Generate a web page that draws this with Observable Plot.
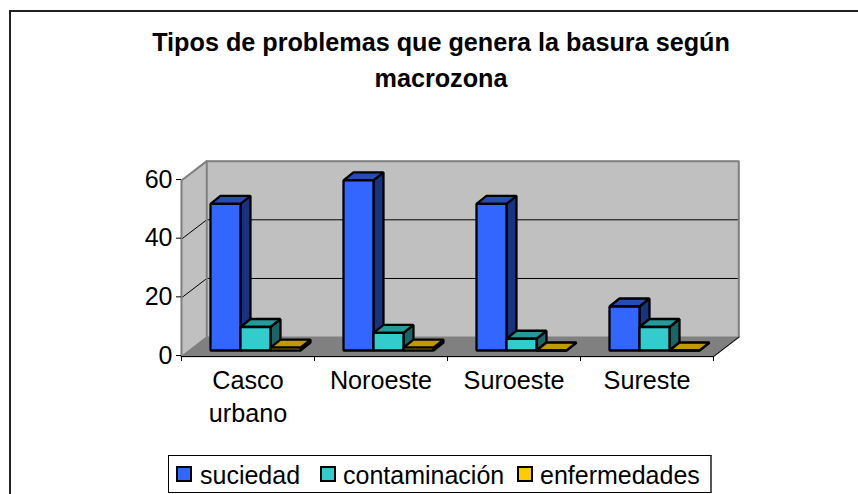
<!DOCTYPE html>
<html>
<head>
<meta charset="utf-8">
<script src="https://cdn.jsdelivr.net/npm/d3@7"></script>
<script src="https://cdn.jsdelivr.net/npm/@observablehq/plot@0.6"></script>
<style>
html,body{margin:0;padding:0;background:#fff;overflow:hidden}
#page{position:relative;width:858px;height:494px;overflow:hidden;font-family:"Liberation Sans",Arial,sans-serif;color:#000}
#frame{position:absolute;left:9px;top:10px;width:860px;height:500px;border:2px solid #222;box-sizing:border-box}
#title{position:absolute;left:141px;top:24px;width:600px;text-align:center;font-weight:bold;font-size:25.2px;line-height:36px;margin:0}
#chart{position:absolute;left:0;top:0}
#legend{position:absolute;left:168px;top:455px;width:544px;height:38px;border:1px solid #000;border-right:2px solid #555;box-sizing:border-box;background:#fff;font-size:25px}
#legend span.s{position:absolute;top:10px;width:12px;height:12px;border:2.5px solid #000;box-sizing:content-box}
#legend span.l{position:absolute;top:4px;white-space:nowrap;line-height:30px}
</style>
</head>
<body>
<div id="page">
  <div id="frame"></div>
  <div id="chart"></div>
  <h1 id="title">Tipos de problemas que genera la basura según<br>macrozona</h1>
  <div id="legend"></div>
</div>
<script>
const categories = ["Casco\nurbano", "Noroeste", "Suroeste", "Sureste"];
const seriesNames = ["suciedad", "contaminación", "enfermedades"];
const suciedad = [50, 58, 50, 15];
const contaminacion = [8, 6, 4, 8];
const enfermedades = [1, 1, 0, 0];
const seriesValues = [suciedad, contaminacion, enfermedades];
const frontColors = ["#3366ff", "#33cccc", "#ffcc00"];
const sideColors = ["#1a3380", "#1a6666", "#806600"];
const topColors = ["#264db3", "#269999", "#bf9900"];

// projection of the oblique view, expressed in data units
const wallDx = 0.19, wallDy = 6.6;    // depth of the floor
const barDx = 0.075, barDy = 2.73;    // depth of a bar
const barStart = 0.218, barW = 0.2256; // offset and width inside a category
const barBase = 2.05;                 // bar base above the axis line

const polys = [];
let id = 0;
function poly(points, fill) {
  id++;
  points.forEach(([x, y]) => polys.push({id, x, y, fill}));
}
categories.forEach((c, i) => {
  seriesValues.forEach((vals, s) => {
    const x0 = i + barStart + s * barW, x1 = x0 + barW;
    const y0 = barBase, y1 = barBase + vals[i];
    poly([[x1,y0],[x1+barDx,y0+barDy],[x1+barDx,y1+barDy],[x1,y1]], sideColors[s]);
    poly([[x0,y1],[x1,y1],[x1+barDx,y1+barDy],[x0+barDx,y1+barDy]], topColors[s]);
    poly([[x0,y0],[x1,y0],[x1,y1],[x0,y1]], frontColors[s]);
  });
});

const gridVals = [20, 40];
const plot = Plot.plot({
  width: 858, height: 494,
  marginLeft: 181, marginRight: 145, marginTop: 180, marginBottom: 138,
  style: {background: "transparent", fontFamily: "'Liberation Sans',Arial,sans-serif", overflow: "visible"},
  x: {domain: [0, 4], axis: null},
  y: {domain: [0, 60], axis: null},
  marks: [
    // walls
    Plot.line([[wallDx,wallDy],[4+wallDx,wallDy],[4+wallDx,60+wallDy],[wallDx,60+wallDy]], {curve:"linear-closed", fill:"#c0c0c0", stroke:"#c0c0c0"}),
    Plot.line([[0,0],[wallDx,wallDy],[wallDx,60+wallDy],[0,60]], {curve:"linear-closed", fill:"#c0c0c0", stroke:"#c0c0c0"}),
    Plot.line([[0,0],[4,0],[4+wallDx,wallDy],[wallDx,wallDy]], {curve:"linear-closed", fill:"#808080", stroke:"#808080"}),
    // gridlines on both walls
    Plot.ruleY(gridVals, {x1: wallDx, x2: 4 + wallDx, y: d => d + wallDy, stroke: "#000", strokeWidth: 1}),
    Plot.link(gridVals, {x1: 0, x2: wallDx, y1: d => d, y2: d => d + wallDy, stroke: "#000", strokeWidth: 1}),
    // wall edges
    Plot.line([[0,0],[0,60],[wallDx,60+wallDy],[4+wallDx,60+wallDy],[4+wallDx,wallDy]], {stroke:"#808080", strokeWidth:2}),
    Plot.line([[wallDx,wallDy],[wallDx,60+wallDy]], {stroke:"#808080", strokeWidth:2}),
    // bars
    Plot.line(polys, {x:"x", y:"y", z:"id", fill:"fill", stroke:"#000", strokeWidth:2.3, curve:"linear-closed", strokeLinejoin:"miter"}),
    // axis lines
    Plot.line([[4+wallDx,wallDy],[4,0],[0,0]], {stroke:"#000", strokeWidth:1}),
    Plot.axisY({ticks:[0,20,40,60], label:null, tickSize:5, tickPadding:4, fontSize:25, anchor:"left", stroke:"#000", color:"#000", textStroke:"none", dy:-1}),
    Plot.axisX({ticks:[0,1,2,3,4], label:null, tickFormat:()=>"", tickSize:5, anchor:"bottom", stroke:"#000"}),
    Plot.axisX({ticks:[0.5,1.5,2.5,3.5], label:null, tickFormat:d=>categories[d-0.5], tickSize:0, tickPadding:9, fontSize:25.2, lineHeight:1.31, anchor:"bottom", color:"#000"})
  ]
});
document.getElementById("chart").appendChild(plot);

const legend = document.getElementById("legend");
const sx = [7, 151, 348], lx = [31, 174, 371];
seriesNames.forEach((n, i) => {
  const s = document.createElement("span");
  s.className = "s"; s.style.left = sx[i] + "px"; s.style.background = frontColors[i];
  const l = document.createElement("span");
  l.className = "l"; l.style.left = lx[i] + "px"; l.textContent = n;
  legend.append(s, l);
});
</script>
</body>
</html>
